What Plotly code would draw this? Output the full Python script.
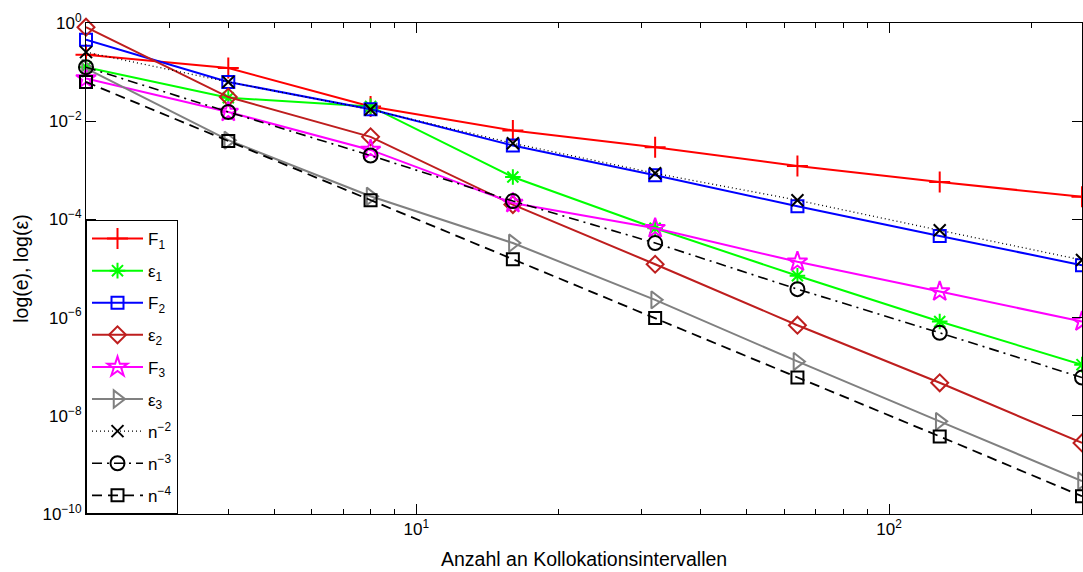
import math
import plotly.graph_objects as go

x_vals = [2, 4, 8, 16, 32, 64, 128, 256]

F1 = [0.226, 0.121, 0.020, 6.5e-3, 2.95e-3, 1.23e-3, 5.8e-4, 2.88e-4]
eps1 = [0.126, 0.030, 0.020, 7.3e-4, 6.6e-5, 7.1e-6, 8.3e-7, 1.1e-7]
F2 = [0.455, 0.063, 0.0175, 3.2e-3, 7.9e-4, 1.86e-4, 4.6e-5, 1.17e-5]
eps2 = [0.82, 0.031, 4.8e-3, 2.0e-4, 1.22e-5, 7.0e-7, 4.7e-8, 2.8e-9]
F3 = [0.074, 0.0154, 2.6e-3, 2.15e-4, 6.6e-5, 1.37e-5, 3.4e-6, 8.3e-7]
eps3 = [0.119, 4.1e-3, 2.96e-4, 3.3e-5, 2.3e-6, 1.28e-7, 7.7e-9, 4.7e-10]
ref2 = [0.255, 0.063, 0.0173, 3.55e-3, 8.7e-4, 2.46e-4, 6.0e-5, 1.49e-5]
ref3 = [0.126, 0.0154, 2.0e-3, 2.36e-4, 3.3e-5, 3.8e-6, 4.9e-7, 6.0e-8]
ref4 = [0.063, 3.95e-3, 2.46e-4, 1.55e-5, 9.8e-7, 6.0e-8, 3.8e-9, 2.3e-10]

names = ["F<sub>1</sub>", "ε<sub>1</sub>", "F<sub>2</sub>", "ε<sub>2</sub>",
         "F<sub>3</sub>", "ε<sub>3</sub>", "n<sup>−2</sup>", "n<sup>−3</sup>", "n<sup>−4</sup>"]

x_tickvals = [10, 100]
x_ticktext = ["10<sup>1</sup>", "10<sup>2</sup>"]
x_minor = [3, 4, 5, 6, 7, 8, 9, 20, 30, 40, 50, 60, 70, 80, 90, 200]
y_tickvals = [1, 1e-2, 1e-4, 1e-6, 1e-8, 1e-10]
y_ticktext = ["10<sup>0</sup>", "10<sup>−2</sup>", "10<sup>−4</sup>", "10<sup>−6</sup>",
              "10<sup>−8</sup>", "10<sup>−10</sup>"]

series = [F1, eps1, F2, eps2, F3, eps3, ref2, ref3, ref4]
colors = ["#FF0000", "#00FF00", "#0000FF", "#BE1E1E", "#FF00FF", "#808080",
          "#000000", "#000000", "#000000"]
symbols = ["cross-thin-open", "asterisk-open", "square-open", "diamond-open",
           "star-open", "triangle-right-open", "x-thin-open", "circle-open", "square-open"]
sizes = [15, 13, 12, 13, 15, 15, 12, 14, 12]
dashes = ["solid"] * 6 + ["1px,3px", "10px,5px,2px,5px", "10px,6px"]
widths = [2, 2, 2, 2, 2, 2, 1.3, 1.6, 1.8]

fig = go.Figure()
for i, ys in enumerate(series):
    fig.add_trace(go.Scatter(
        x=x_vals, y=ys, name=names[i], mode="lines+markers",
        legendgroup=f"g{i}",
        line=dict(color=colors[i], width=widths[i], dash=dashes[i]),
        marker=dict(symbol=symbols[i], size=sizes[i], color=colors[i],
                    line=dict(color=colors[i], width=2)),
        cliponaxis=False,
    ))

axis_font = dict(family="Liberation Sans, Arial, sans-serif", size=17, color="black")
eps_r = 1e-6

fig.update_layout(
    width=1083, height=572,
    margin=dict(l=86, r=1, t=22.5, b=57.5),
    plot_bgcolor="white", paper_bgcolor="white",
    font=dict(family="Liberation Sans, Arial, sans-serif", color="black"),
    showlegend=True,
    legend=dict(x=0, y=0, xanchor="left", yanchor="bottom",
                bgcolor="white", bordercolor="black", borderwidth=1,
                font=dict(size=17, family="Liberation Sans, Arial, sans-serif"),
                tracegroupgap=7, itemwidth=51),
    xaxis=dict(type="log", range=[math.log10(2) - eps_r, math.log10(256) + eps_r],
               showgrid=False, zeroline=False,
               showline=True, linecolor="black", linewidth=1, mirror="ticks",
               ticks="inside", ticklen=10, tickcolor="black",
               tickvals=x_tickvals, ticktext=x_ticktext, tickfont=axis_font,
               minor=dict(ticks="inside", ticklen=5, tickcolor="black",
                          tickvals=x_minor, showgrid=False)),
    yaxis=dict(type="log", range=[-10 - eps_r, 0 + eps_r], showgrid=False, zeroline=False,
               showline=True, linecolor="black", linewidth=1, mirror="ticks",
               ticks="inside", ticklen=10, tickcolor="black",
               tickvals=y_tickvals, ticktext=y_ticktext, tickfont=axis_font),
    annotations=[
        dict(text="Anzahl an Kollokationsintervallen", xref="paper", yref="paper",
             x=0.5, y=-0.0925, xanchor="center", yanchor="middle", showarrow=False,
             font=dict(size=19.5)),
        dict(text="log(e), log(ε)", xref="paper", yref="paper",
             x=-0.066, y=0.5, xanchor="center", yanchor="middle", showarrow=False,
             textangle=-90, font=dict(size=19.5)),
    ],
)

fig.write_html(
    "out.html",
    config={"displayModeBar": False},
    post_script="document.body.style.margin='0';document.body.style.overflow='hidden';",
)
